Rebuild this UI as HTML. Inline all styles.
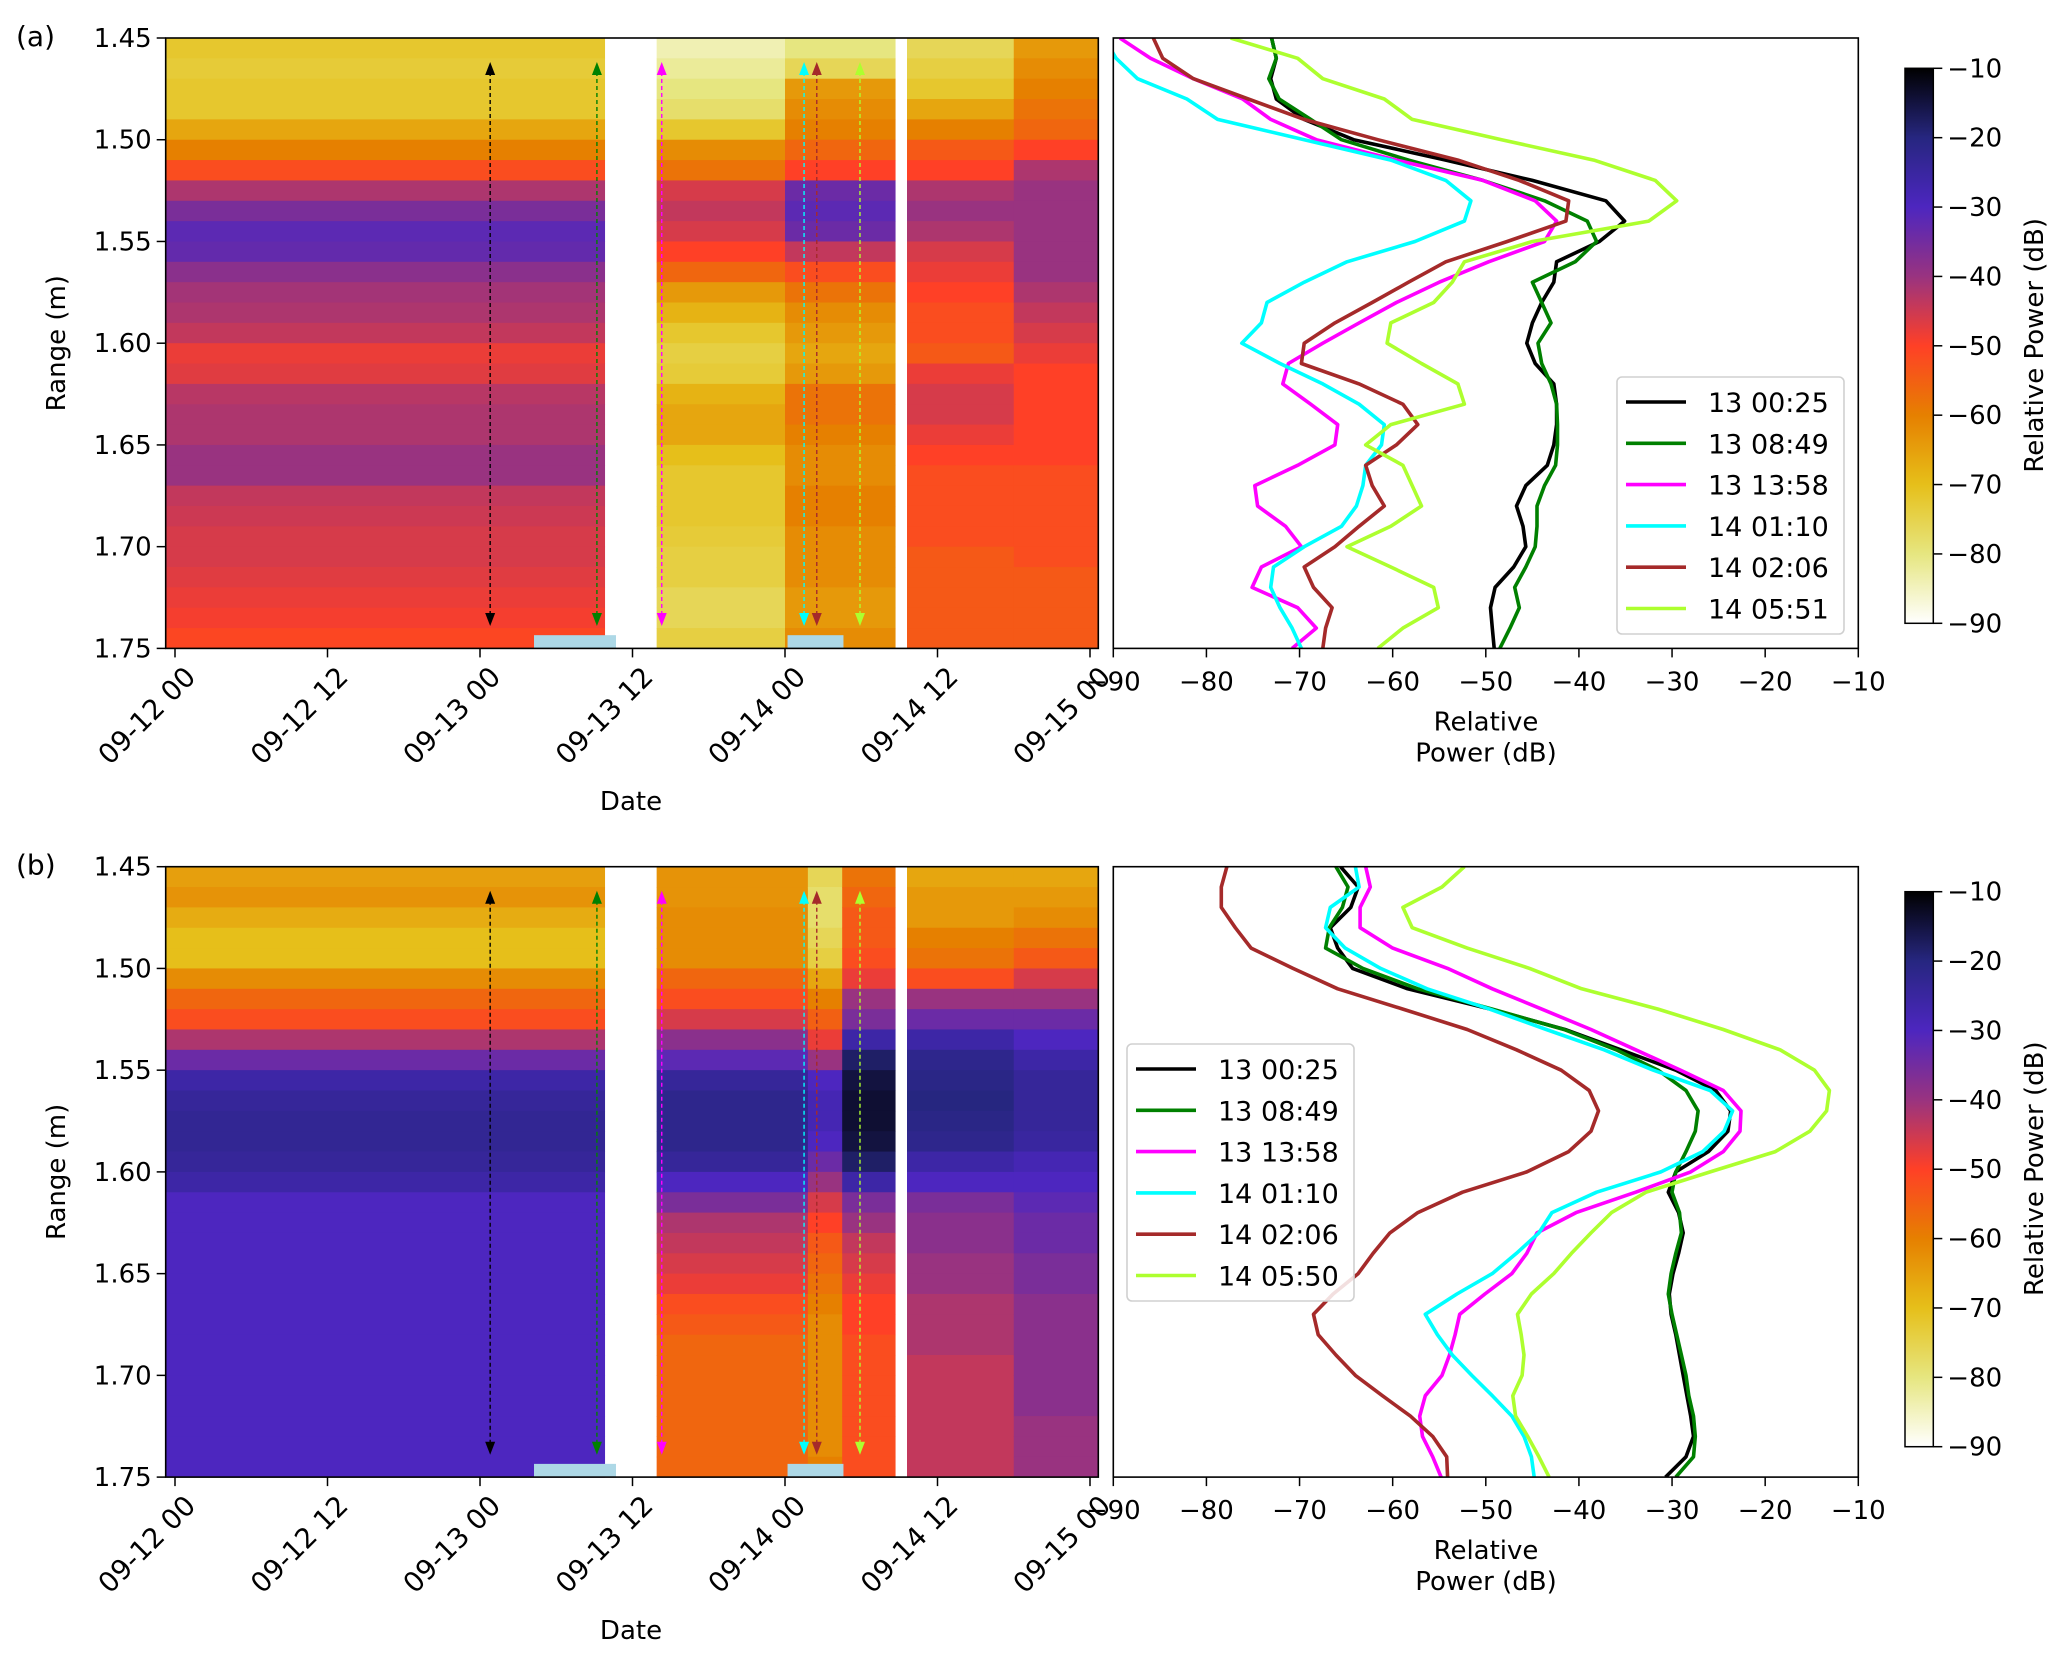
<!DOCTYPE html>
<html><head><meta charset="utf-8"><style>
html,body{margin:0;padding:0;background:#fff;}
svg{display:block;font-family:"DejaVu Sans","Liberation Sans",sans-serif;}
</style></head><body>
<svg id="fig" width="2067" height="1658" viewBox="0 0 2067 1658" xmlns="http://www.w3.org/2000/svg"></svg>
<script>
// ---------- data ----------
const rangeTicks = [1.45,1.50,1.55,1.60,1.65,1.70,1.75];
const rangeTickLabels = ["1.45","1.50","1.55","1.60","1.65","1.70","1.75"];
const dateTickHours = [0,12,24,36,48,60,72];
const dateTickLabels = ["09-12 00","09-12 12","09-13 00","09-13 12","09-14 00","09-14 12","09-15 00"];
const dbTicks = [-90,-80,-70,-60,-50,-40,-30,-20,-10];
const dbTickLabels = ["\u221290","\u221280","\u221270","\u221260","\u221250","\u221240","\u221230","\u221220","\u221210"];
const profileRanges = [1.45,1.46,1.47,1.48,1.49,1.50,1.51,1.52,1.53,1.54,1.55,1.56,1.57,1.58,1.59,1.60,1.61,1.62,1.63,1.64,1.65,1.66,1.67,1.68,1.69,1.70,1.71,1.72,1.73,1.74,1.75];
const seriesColors = ["#000000","#008000","#ff00ff","#00ffff","#a52a2a","#adff2f"];
const arrowHours = [24.8,33.2,38.3,49.5,50.5,53.9];
const legendA = ["13 00:25","13 08:49","13 13:58","14 01:10","14 02:06","14 05:51"];
const legendB = ["13 00:25","13 08:49","13 13:58","14 01:10","14 02:06","14 05:50"];
const markerBarStart = [28.25,48.2];
const markerBarEnd = [34.7,52.6];

// profiles panel a (dB)
const a_black = [-73,-72.5,-73.1,-72.5,-69.5,-64.2,-54.3,-45,-37.1,-35.1,-37.8,-42.4,-42.7,-44,-45,-45.6,-44.7,-42.7,-42.4,-42.4,-42.7,-43.4,-45.7,-46.7,-46,-45.7,-47,-49,-49.5,-49.3,-49.1];
const a_green = [-73,-72.5,-73.3,-72.2,-68.8,-65.5,-58.3,-50.3,-43.7,-39.1,-38.1,-40.4,-45,-44,-43,-44.4,-44,-43,-42.4,-42.3,-42.3,-42.5,-43.7,-44.5,-44.5,-44.7,-45.7,-46.9,-46.4,-47.4,-48.5];
const a_magenta = [-89.3,-86,-81.4,-76.1,-73.1,-68.2,-59.6,-50.3,-44.7,-42.4,-43.7,-49.7,-55,-59.6,-63.6,-67.5,-71.2,-71.8,-68.8,-65.9,-66.2,-70.2,-74.8,-74.5,-71.5,-69.8,-74.1,-75.1,-70.2,-68.2,-70.8];
const a_cyan = [-91,-89.7,-87.4,-82.1,-78.8,-69.5,-60.2,-54.3,-51.6,-52.3,-57.6,-64.9,-69.5,-73.5,-74.1,-76.2,-72.1,-67.5,-63.6,-60.9,-61.2,-62.9,-63.2,-63.9,-65.5,-69.5,-72.8,-73.1,-72.1,-70.8,-69.8];
const a_brown = [-85.7,-84.7,-81.4,-75.5,-69.5,-61.6,-53,-46.4,-41.1,-41.4,-47.7,-54.3,-58.3,-62.2,-66.2,-69.5,-69.8,-63.6,-58.9,-57.3,-59.6,-62.9,-62.2,-60.9,-63.6,-66.2,-69.5,-68.5,-66.5,-67.2,-67.5];
const a_lime = [-77.4,-70.2,-67.5,-60.9,-57.9,-48.3,-38.4,-31.8,-29.5,-32.5,-45,-52.3,-53.6,-55.6,-60.2,-60.6,-56.9,-53,-52.3,-60.2,-62.9,-58.9,-57.9,-56.9,-60.2,-64.9,-60.2,-55.6,-55.1,-58.9,-61.6];
// profiles panel b (dB)
const b_black = [-65.6,-63.7,-64.5,-66.7,-65.9,-64.3,-58.4,-49.5,-41.5,-35.5,-29.6,-25.3,-23.7,-24,-26.1,-29.6,-30.4,-29.3,-28.8,-29.3,-29.9,-30.3,-30.1,-29.6,-29.2,-28.8,-28.4,-28,-27.7,-28.5,-30.7];
const b_green = [-66.1,-64.8,-65.4,-66.8,-67.2,-63.2,-57.3,-49.3,-41.6,-36,-31.5,-28.5,-27.2,-27.5,-28.5,-29.6,-30,-29.2,-29,-29.6,-30.1,-30.4,-30,-29.5,-29,-28.5,-28.2,-27.7,-27.5,-27.7,-29.6];
const b_magenta = [-62.9,-62.4,-63.5,-63.5,-60,-54.1,-49.3,-44,-38.7,-33.9,-29.1,-24.5,-22.6,-22.7,-24.5,-28,-33.9,-40.3,-44.5,-45.6,-47.2,-50.1,-52.8,-53.3,-53.9,-54.7,-56.5,-57.1,-56.8,-55.7,-54.8];
const b_cyan = [-64,-63.6,-66.7,-67.2,-65.1,-61.3,-56.3,-49.6,-43.5,-37.3,-32,-25.9,-23.5,-24.4,-26.7,-31.2,-38.1,-42.9,-44.3,-46.7,-49.3,-53.1,-56.5,-55.2,-53.6,-51.5,-49.3,-47.2,-45.9,-45.1,-44.8];
const b_brown = [-77.8,-78.4,-78.4,-76.9,-75.2,-70.7,-65.9,-58.9,-52,-46.7,-41.9,-38.9,-37.9,-38.7,-41.1,-45.6,-52.5,-57.3,-60.3,-62.1,-63.7,-66.4,-68.5,-68,-66.1,-64,-61.1,-58.1,-55.7,-54.2,-54.1];
const b_lime = [-52.3,-54.7,-58.9,-57.9,-52,-45.3,-39.7,-31.5,-24.5,-18.4,-14.7,-13.1,-13.4,-15.2,-18.9,-25.9,-32.8,-36.5,-38.7,-40.8,-42.7,-45.1,-46.6,-46.2,-45.9,-46.1,-47.1,-46.8,-45.5,-44.3,-43.2];

// heatmap segments (hours) and column profiles (dB per 0.01 m row, 1.45..1.74)
const a_segStart = [-0.73,37.9,48,57.6,66];
const a_segEnd = [33.8,48,56.66,66,72.65];
const a_col1 = [-72,-73,-72,-72,-66,-60,-52,-42,-36,-32,-33,-38,-41,-42,-44,-48,-47,-43,-42,-42,-40,-40,-44,-45,-46,-46,-47,-48,-49,-51];
const a_col2 = [-84,-82,-80,-78,-72,-62,-58,-46,-44,-46,-50,-56,-64,-68,-72,-74,-73,-68,-66,-66,-70,-72,-72,-72,-73,-74,-74,-76,-76,-74];
const a_col3 = [-80,-76,-64,-62,-60,-56,-50,-34,-32,-34,-44,-52,-58,-62,-64,-66,-64,-58,-58,-60,-62,-62,-60,-60,-62,-62,-62,-64,-64,-62];
const a_col4 = [-76,-74,-72,-66,-60,-54,-50,-42,-40,-42,-46,-48,-50,-52,-52,-54,-48,-46,-46,-48,-50,-52,-52,-52,-52,-54,-54,-54,-54,-54];
const a_col5 = [-64,-62,-60,-58,-56,-50,-42,-40,-40,-40,-40,-40,-42,-44,-46,-48,-50,-50,-50,-50,-50,-52,-52,-52,-52,-52,-54,-54,-54,-54];
const b_segStart = [-0.73,37.9,49.8,52.5,57.6,66];
const b_segEnd = [33.8,49.8,52.5,56.66,66,72.65];
const b_col1 = [-65,-63,-67,-70,-70,-62,-56,-52,-42,-34,-26,-24,-23,-23,-24,-26,-30,-30,-30,-30,-30,-30,-30,-30,-30,-30,-30,-30,-30,-30];
const b_col2 = [-63,-63,-62,-62,-62,-56,-52,-46,-38,-32,-24,-22,-22,-22,-24,-30,-36,-42,-44,-46,-48,-52,-54,-56,-56,-56,-56,-56,-56,-56];
const b_col3 = [-76,-78,-78,-76,-74,-66,-60,-55,-48,-40,-30,-28,-28,-30,-34,-40,-46,-50,-54,-56,-58,-60,-62,-62,-62,-62,-62,-62,-62,-60];
const b_col4 = [-58,-56,-54,-54,-52,-48,-40,-36,-26,-18,-15,-14,-14,-15,-18,-26,-36,-40,-44,-46,-48,-50,-50,-52,-52,-52,-52,-52,-52,-52];
const b_col5 = [-66,-64,-64,-60,-58,-52,-40,-34,-26,-22,-21,-20,-21,-22,-26,-30,-36,-38,-38,-40,-40,-42,-42,-42,-44,-44,-44,-44,-44,-44];
const b_col6 = [-66,-64,-62,-58,-54,-46,-40,-34,-30,-26,-24,-24,-24,-25,-28,-30,-32,-34,-34,-36,-36,-38,-38,-38,-38,-38,-38,-40,-40,-40];

// ---------- drawing ----------
const NS = "http://www.w3.org/2000/svg";
const svg = document.getElementById("fig");
function el(tag, attrs, parent){ const e=document.createElementNS(NS,tag); for(const k in attrs) e.setAttribute(k,attrs[k]); (parent||svg).appendChild(e); return e; }
const HX0=165.7, HX1=1098.3, LX0=1113.3, LX1=1858.3, CBX0=1905, CBX1=1933.3;
const H = 610.4;
function xTime(h){ return 175 + h/24*305; }
function yRange(r, top){ return top + (r-1.45)/0.30*H; }
function xDb(v){ return LX0 + (v+90)/80*(LX1-LX0); }
function yCb(v, top){ return top + (-10 - v)/80*555; }
const cmapAnch = [[0,0,0],[0.15,0.15,0.5],[0.3,0.15,0.75],[0.6,0.2,0.5],[1,0.25,0.15],[0.9,0.5,0],[0.9,0.75,0.1],[0.9,0.9,0.5],[1,1,1]];
function cmap(v){
  let s=(-10 - v)/80; s=Math.max(0,Math.min(1,s));
  const p=s*8, i=Math.min(7,Math.floor(p)), f=p-i;
  const a=cmapAnch[i], b=cmapAnch[i+1];
  const c=a.map((x,k)=>Math.round(255*(x+(b[k]-x)*f)));
  return `rgb(${c[0]},${c[1]},${c[2]})`;
}

function drawPanel(top, label, segStart, segEnd, cols, series, legendNames, legendPos, cbTop, xlabY){
  const g = el("g",{});
  
  
  const t = el("text",{x:16,y:top+8,"font-size":28},g); t.textContent="("+label+")";
  
  
  // heatmap
  const hm = el("g",{},g);
  
  
  for(let s=0;s<segStart.length;s++){
    const x0=xTime(segStart[s]), x1=xTime(segEnd[s]);
    for(let r=0;r<cols[s].length;r++){
      const y0=yRange(1.45+r*0.01,top), y1=yRange(1.45+(r+1)*0.01,top);
      const c=el("rect",{x:x0,y:y0,width:x1-x0+0.5,height:y1-y0+0.5,fill:cmap(cols[s][r])},hm);
      
      
    }
  }
  // marker bars
  for(let i=0;i<markerBarStart.length;i++){
    const b=el("rect",{x:xTime(markerBarStart[i]),y:yRange(1.7435,top),width:xTime(markerBarEnd[i])-xTime(markerBarStart[i]),height:yRange(1.75,top)-yRange(1.7435,top),fill:"#add8e6"},g);
    
    
  }
  // arrows
  for(let i=0;i<arrowHours.length;i++){
    const x=xTime(arrowHours[i]), yt=yRange(1.4618,top), yb=yRange(1.739,top), c=seriesColors[i];
    const ag=el("g",{},g);
    
    
    el("line",{x1:x,y1:yt+10,x2:x,y2:yb-10,stroke:c,"stroke-width":1.4,"stroke-dasharray":"4,3"},ag);
    el("polygon",{points:`${x},${yt} ${x-5},${yt+13} ${x+5},${yt+13}`,fill:c},ag);
    el("polygon",{points:`${x},${yb} ${x-5},${yb-13} ${x+5},${yb-13}`,fill:c},ag);
  }
  const fr=el("rect",{x:HX0,y:top,width:HX1-HX0,height:H,fill:"none",stroke:"#000","stroke-width":1.6},g);
   
  // y ticks
  for(let i=0;i<rangeTicks.length;i++){
    const y=yRange(rangeTicks[i],top);
    el("line",{x1:HX0-9,y1:y,x2:HX0,y2:y,stroke:"#000","stroke-width":1.5},g);
    const tx=el("text",{x:HX0-14,y:y+9,"font-size":26,"text-anchor":"end"},g); tx.textContent=rangeTickLabels[i];
     
  }
  const yl=el("text",{x:0,y:0,"font-size":26,"text-anchor":"middle",transform:`translate(65,${top+H/2}) rotate(-90)`},g); yl.textContent="Range (m)";
   
  // x ticks
  for(let i=0;i<dateTickHours.length;i++){
    const x=xTime(dateTickHours[i]), yb=top+H;
    el("line",{x1:x,y1:yb,x2:x,y2:yb+9,stroke:"#000","stroke-width":1.5},g);
    const tx=el("text",{x:0,y:0,"font-size":27.5,"text-anchor":"end","dominant-baseline":"hanging",transform:`translate(${x+8},${yb+16}) rotate(-45)`},g); tx.textContent=dateTickLabels[i];
     
  }
  const xl=el("text",{x:631,y:xlabY,"font-size":26,"text-anchor":"middle"},g); xl.textContent="Date";
   
  // line plot
  const lp=el("g",{},g);
  
  
  el("clipPath",{id:"clip"+label},lp);
  el("rect",{x:LX0,y:top,width:LX1-LX0,height:H},lp.lastChild);
  for(let s=0;s<series.length;s++){
    const pts=series[s].map((v,i)=>`${xDb(v).toFixed(1)},${yRange(profileRanges[i],top).toFixed(1)}`).join(" ");
    const pl=el("polyline",{points:pts,fill:"none",stroke:seriesColors[s],"stroke-width":3.6,"stroke-linejoin":"round","clip-path":`url(#clip${label})`},lp);
    
    
  }
  el("rect",{x:LX0,y:top,width:LX1-LX0,height:H,fill:"none",stroke:"#000","stroke-width":1.6},lp);
  for(let i=0;i<dbTicks.length;i++){
    const x=xDb(dbTicks[i]), yb=top+H;
    el("line",{x1:x,y1:yb,x2:x,y2:yb+9,stroke:"#000","stroke-width":1.5},lp);
    const tx=el("text",{x:x,y:yb+42,"font-size":26,"text-anchor":"middle"},lp); tx.textContent=dbTickLabels[i];
     
  }
  const pl1=el("text",{x:1486,y:top+H+82,"font-size":26,"text-anchor":"middle"},lp); pl1.textContent="Relative";
   
  const pl2=el("text",{x:1486,y:top+H+113,"font-size":26,"text-anchor":"middle"},lp); pl2.textContent="Power (dB)";
   
  // legend
  const lg=el("g",{},lp);
  
  
  const [lx,ly,lw,lh]=legendPos;
  el("rect",{x:lx,y:ly,width:lw,height:lh,rx:5,fill:"#fff","fill-opacity":0.85,stroke:"#d0d0d0","stroke-width":1.6},lg);
  for(let s=0;s<legendNames.length;s++){
    const yy=ly+25+s*41.3;
    const e=el("g",{},lg);
    
    
    el("line",{x1:lx+9,y1:yy,x2:lx+69,y2:yy,stroke:seriesColors[s],"stroke-width":3.6},e);
    const tx=el("text",{x:lx+91,y:yy+10,"font-size":27},e); tx.textContent=legendNames[s];
  }
  // colorbar
  const cb=el("g",{},g);
  
  
  const gid="grad"+label;
  const gr=el("linearGradient",{id:gid,x1:0,y1:0,x2:0,y2:1},cb);
  for(let k=0;k<=40;k++){ el("stop",{offset:k/40,"stop-color":cmap(-10-k*2)},gr); }
  el("rect",{x:CBX0,y:cbTop,width:CBX1-CBX0,height:555,fill:`url(#${gid})`,stroke:"#000","stroke-width":1.5},cb);
  for(let i=0;i<dbTicks.length;i++){
    const y=yCb(dbTicks[i],cbTop);
    el("line",{x1:CBX1,y1:y,x2:CBX1+9,y2:y,stroke:"#000","stroke-width":1.5},cb);
    const tx=el("text",{x:CBX1+14,y:y+9,"font-size":26},cb); tx.textContent=dbTickLabels[i];
     
  }
  const cl=el("text",{x:0,y:0,"font-size":26,"text-anchor":"middle",transform:`translate(2043,${cbTop+277}) rotate(-90)`},cb); cl.textContent="Relative Power (dB)";
   
}
drawPanel(38,"a",a_segStart,a_segEnd,[a_col1,a_col2,a_col3,a_col4,a_col5],
  [a_black,a_green,a_magenta,a_cyan,a_brown,a_lime],legendA,[1617,377,227,257],68.3,810);
drawPanel(866.7,"b",b_segStart,b_segEnd,[b_col1,b_col2,b_col3,b_col4,b_col5,b_col6],
  [b_black,b_green,b_magenta,b_cyan,b_brown,b_lime],legendB,[1127,1044,227,257],891.7,1639);
</script>
</body></html>
